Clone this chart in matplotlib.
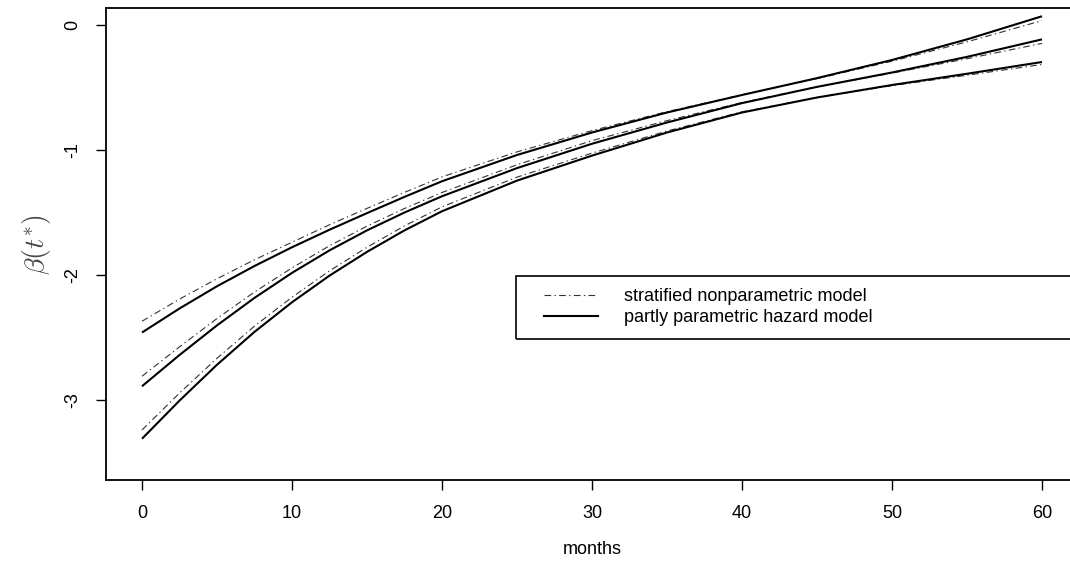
import numpy as np
import matplotlib
matplotlib.use("Agg")
import matplotlib.pyplot as plt
from matplotlib.patches import Rectangle

plt.rcParams['font.family'] = ['Liberation Sans', 'DejaVu Sans']
plt.rcParams['mathtext.fontset'] = 'cm'

months = [0, 2.5, 5, 7.5, 10, 12.5, 15, 17.5, 20, 25, 30, 35, 40, 45, 50, 55, 60]

# partly parametric hazard model (solid): upper band, estimate, lower band
pp_upper = [-2.46, -2.268, -2.09, -1.928, -1.778, -1.638, -1.505, -1.375, -1.25,
            -1.04, -0.86, -0.70, -0.56, -0.425, -0.28, -0.115, 0.07]
pp_est = [-2.89, -2.64, -2.403, -2.183, -1.983, -1.803, -1.643, -1.50, -1.37,
          -1.145, -0.95, -0.78, -0.625, -0.495, -0.38, -0.255, -0.115]
pp_lower = [-3.31, -3.005, -2.718, -2.455, -2.218, -2.005, -1.815, -1.643, -1.49,
            -1.245, -1.045, -0.86, -0.70, -0.58, -0.48, -0.39, -0.296]

# stratified nonparametric model (dash-dot)
sn_upper = [-2.37, -2.193, -2.03, -1.878, -1.738, -1.598, -1.467, -1.339, -1.215,
            -1.015, -0.845, -0.693, -0.558, -0.429, -0.29, -0.135, 0.035]
sn_est = [-2.81, -2.575, -2.348, -2.136, -1.943, -1.766, -1.609, -1.468, -1.34,
          -1.118, -0.925, -0.765, -0.62, -0.495, -0.385, -0.27, -0.147]
sn_lower = [-3.24, -2.945, -2.666, -2.409, -2.178, -1.967, -1.778, -1.607, -1.455,
            -1.217, -1.025, -0.848, -0.695, -0.58, -0.485, -0.402, -0.316]

x_ticks = [0, 10, 20, 30, 40, 50, 60]
y_ticks = [0, -1, -2, -3]

fig = plt.figure(figsize=(10.7, 5.63), dpi=100)
ax = fig.add_axes([106/1070, 83/563, 972/1070, 472/563])

dashdot = (0, (6, 3, 1.2, 3))
for s in [sn_upper, sn_est, sn_lower]:
    ax.plot(months, s, color='#333333', lw=0.8, linestyle=dashdot)
for s in [pp_upper, pp_est, pp_lower]:
    ax.plot(months, s, color='black', lw=1.5, solid_capstyle='butt')

ax.set_xlim(-2.4, 62.4)
ax.set_ylim(-3.64, 0.136)
ax.set_xticks(x_ticks)
ax.set_yticks(y_ticks)
ax.set_yticklabels([str(v) for v in y_ticks], rotation=90, va='center')
ax.tick_params(direction='out', length=7, width=1, labelsize=13, pad=11, color='black')
for sp in ax.spines.values():
    sp.set_linewidth(1.3)

ax.set_xlabel('months', fontsize=13, labelpad=14)
ax.set_ylabel(r'$\beta(t^{*})$', fontsize=20, labelpad=8, color='#444444')

# legend frame (runs off the right edge as in the original)
ax.add_patch(Rectangle((516/1070, (563-339)/563), 0.6, 63/563, transform=fig.transFigure,
                       fill=False, lw=1.2, edgecolor='black', clip_on=False))
h1, = ax.plot([], [], color='#333333', lw=0.8, linestyle=dashdot)
h2, = ax.plot([], [], color='black', lw=1.5)
fig.legend([h1, h2], ['stratified nonparametric model', 'partly parametric hazard model'],
           loc='upper left', bbox_to_anchor=(544/1070, (563-288)/563), frameon=False,
           fontsize=13, handlelength=3.0, handletextpad=1.45, labelspacing=0.22,
           borderpad=0, borderaxespad=0)

fig.savefig('out.png', dpi=100)
